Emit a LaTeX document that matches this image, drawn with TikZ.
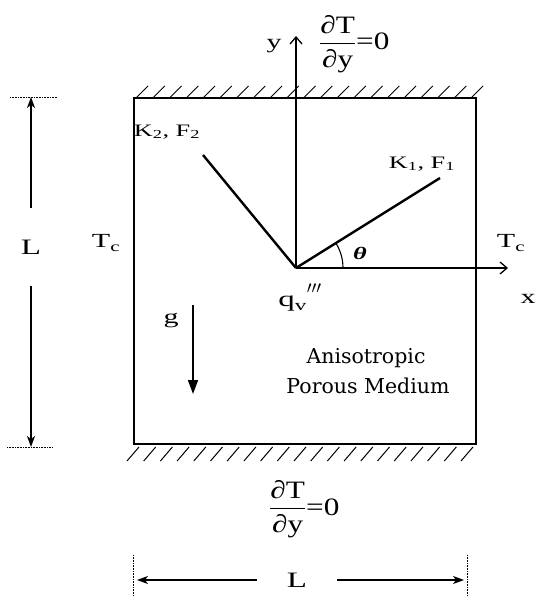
\documentclass[tikz,border=0pt]{standalone}
\usepackage{amsmath}
\usepackage{fontspec}
\setmainfont[FakeStretch=1.5]{Liberation Serif}
\newfontfamily\mediumfont{DejaVu Serif}
\usetikzlibrary{arrows.meta, positioning}
\newcommand{\dTdy}{$\dfrac{\text{∂T}\rule[-6pt]{0pt}{6pt}}{\text{∂y}}$=0}

\begin{document}
\begin{tikzpicture}[x=1pt, y=-1pt,
      wall/.style={line width=2.4pt},
      hatch/.style={line width=1pt},
      axis/.style={line width=1.3pt, -{Straight Barb[length=7pt, width=12pt]}},
      dimarr/.style={line width=1.3pt, -{Stealth[length=11pt, width=8pt, inset=3pt]}},
      guide/.style={densely dotted, line width=0.6pt},
      dirline/.style={line width=2.4pt},
      lbl/.style={font=\fontsize{20}{22}\selectfont, inner sep=0pt},
      big/.style={font=\fontsize{22}{24}\selectfont, inner sep=0pt},
      frac/.style={font=\fontsize{25}{28}\selectfont\addfontfeature{FakeStretch=1.25}, inner sep=0pt},
      sml/.style={font=\fontsize{17.5}{20}\selectfont, inner sep=0pt},
      medium/.style={font=\mediumfont\fontsize{20.5}{22}\selectfont, inner sep=0pt}
    ]
      \useasboundingbox (0,0) rectangle (536,596);
      % enclosure with adiabatic walls
      \draw[wall] (134,98) rectangle (476,444);
      \foreach \i in {0,...,20}
        \draw[hatch] (136+\i*16.75,98) -- ++(12,-12);
      \foreach \i in {0,...,20}
        \draw[hatch] (127+\i*16.7,461) -- ++(12,-14);
      % axes
      \coordinate (O) at (296,268);
      \coordinate (ytip) at (296,36);
      \coordinate (xtip) at (508,268);
      \draw[axis] (O) -- (ytip);
      \draw[axis] (O) -- (xtip);
      \node[lbl] (ylab) at (274,46) {y};
      \node[lbl] (xlab) at (528,299) {x};
      % principal directions
      \coordinate (k1end) at (440,178);
      \coordinate (k2end) at (203,155);
      \draw[dirline] (O) -- (k1end);
      \draw[dirline] (O) -- (k2end);
      \draw[line width=1.1pt] (O) ++(47,0) arc[start angle=0, end angle=-32, radius=47];
      \node[sml] (theta) at (360,253) {\bfseries\itshape θ};
      \node[sml] (k1lab) at (422,164) {K\textsubscript{1}, F\textsubscript{1}};
      \node[sml] (k2lab) at (167,132) {K\textsubscript{2}, F\textsubscript{2}};
      \node[big] (qlab) at (300,298) {q\textsubscript{v}\raisebox{4pt}{\fontsize{26}{28}\selectfont$'''$}};
      % boundary conditions
      \node[frac, anchor=base west] (bctop) at (319,50) {\dTdy};
      \node[frac, anchor=base west] (bcbot) at (269,515) {\dTdy};
      \node[lbl] (tcleft) at (106,243) {T\textsubscript{c}};
      \node[lbl] (tcright) at (511,243) {T\textsubscript{c}};
      % gravity
      \coordinate (gtop) at (193,305);
      \coordinate (gbot) at (193,394);
      \draw[line width=1.6pt, -{Triangle[length=14pt, width=10pt]}] (gtop) -- (gbot);
      \node[lbl] (glab) at (171,321) {g};
      \node[medium] (aniso) at (366,358) {Anisotropic};
      \node[medium] (porous) at (368,386) {Porous Medium};
      % dimensions
      \node[big, inner ysep=32pt] (Lleft) at (31,247) {L};
      \coordinate (lt) at (31,97);
      \coordinate (lb) at (31,447);
      \draw[dimarr] (Lleft.north) -- (lt);
      \draw[dimarr] (Lleft.south) -- (lb);
      \draw[guide] (10,97) -- (57,97);
      \draw[guide] (7,447) -- (52,447);
      \node[big, inner xsep=30pt] (Lbot) at (297,580) {L};
      \coordinate (bl) at (137,580);
      \coordinate (br) at (464,580);
      \draw[dimarr] (Lbot.west) -- (bl);
      \draw[dimarr] (Lbot.east) -- (br);
      \draw[guide] (133,555) -- (133,596);
      \draw[guide] (467,555) -- (467,596);
    \end{tikzpicture}
\end{document}
